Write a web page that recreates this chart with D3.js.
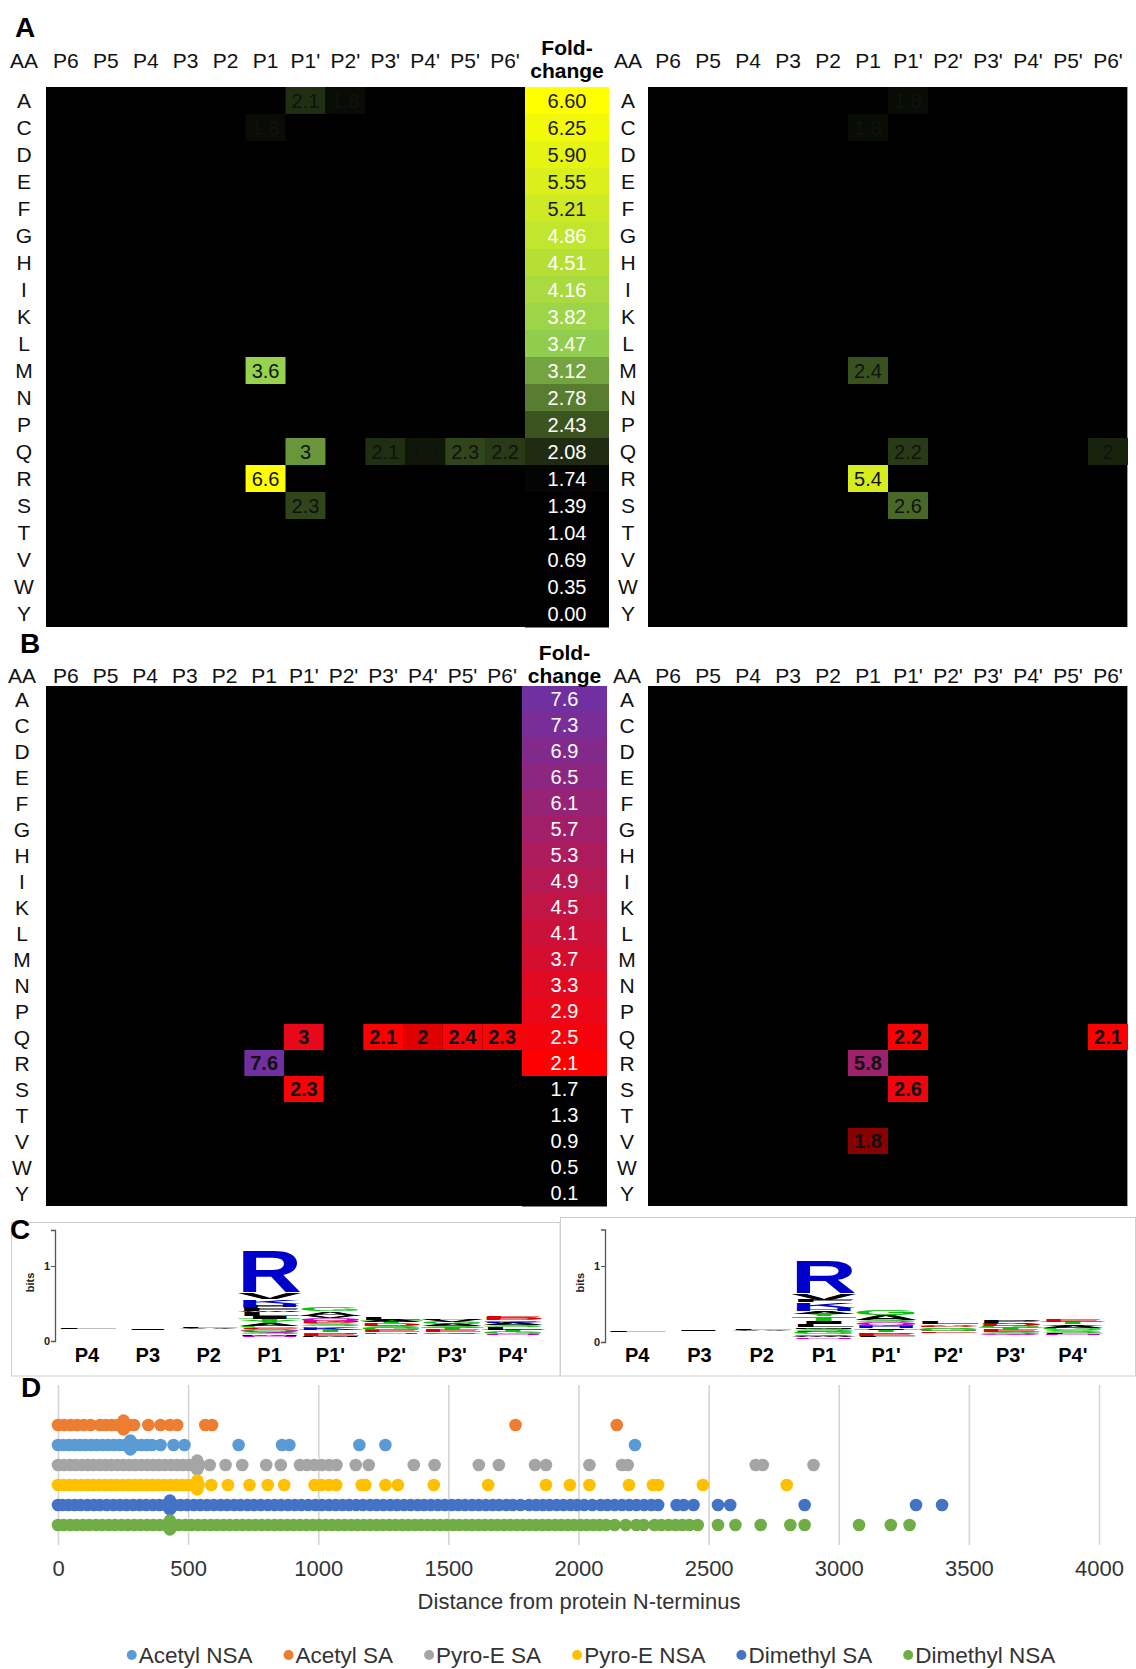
<!DOCTYPE html>
<html>
<head>
<meta charset="utf-8">
<script src="https://cdn.jsdelivr.net/npm/d3@7/dist/d3.min.js"></script>
<style>
  body { margin: 0; background: #fff; }
  svg { display: block; font-family: "Liberation Sans", Arial, sans-serif; }
</style>
</head>
<body>
<svg id="fig" width="1136" height="1669"></svg>
<script>
// ---- data ----
var aminoAcids = ["A","C","D","E","F","G","H","I","K","L","M","N","P","Q","R","S","T","V","W","Y"];
var positions = ["P6","P5","P4","P3","P2","P1","P1'","P2'","P3'","P4'","P5'","P6'"];

var foldLegendA = ["6.60","6.25","5.90","5.55","5.21","4.86","4.51","4.16","3.82","3.47","3.12","2.78","2.43","2.08","1.74","1.39","1.04","0.69","0.35","0.00"];
var foldLegendB = ["7.6","7.3","6.9","6.5","6.1","5.7","5.3","4.9","4.5","4.1","3.7","3.3","2.9","2.5","2.1","1.7","1.3","0.9","0.5","0.1"];

// [amino acid, position, fold-change]
var cellsALeft = [["A","P1'",2.1],["A","P2'",1.8],["C","P1",1.8],["M","P1",3.6],["Q","P1'",3],
  ["Q","P3'",2.1],["Q","P4'",1.9],["Q","P5'",2.3],["Q","P6'",2.2],["R","P1",6.6],["S","P1'",2.3]];
var cellsARight = [["A","P1'",1.8],["C","P1",1.8],["M","P1",2.4],["Q","P1'",2.2],["Q","P6'",2],
  ["R","P1",5.4],["S","P1'",2.6]];
var cellsBLeft = [["Q","P1'",3],["Q","P3'",2.1],["Q","P4'",2],["Q","P5'",2.4],["Q","P6'",2.3],
  ["R","P1",7.6],["S","P1'",2.3]];
var cellsBRight = [["Q","P1'",2.2],["Q","P6'",2.1],["R","P1",5.8],["S","P1'",2.6],["V","P1",1.8]];

// sequence logos: stack base (bits) and letters bottom-to-top [aa, bits]
var logoPositions = ["P4","P3","P2","P1","P1'","P2'","P3'","P4'"];
var logoBaseLeft = [0.16, 0.15, 0.16, 0.05, 0.05, 0.10, 0.10, 0.08];
var logoLettersLeft = [
  [["L",0.01]],
  [["I",0.01]],
  [["A",0.008],["L",0.02]],
  [["N",0.02],["M",0.02],["S",0.025],["Q",0.025],["G",0.02],["E",0.015],["C",0.03],["A",0.03],["Y",0.03],
   ["T",0.035],["I",0.035],["L",0.05],["W",0.02],["F",0.03],["P",0.025],["H",0.04],["K",0.06],["V",0.09],["R",0.57]],
  [["M",0.02],["E",0.03],["N",0.02],["T",0.03],["K",0.03],["C",0.02],["S",0.04],["D",0.03],["Q",0.04],["V",0.03],["A",0.06],["G",0.05]],
  [["N",0.015],["E",0.03],["G",0.03],["S",0.03],["D",0.03],["T",0.025],["A",0.025],["L",0.04]],
  [["Q",0.015],["E",0.03],["T",0.03],["S",0.03],["A",0.025],["G",0.03],["V",0.025],["P",0.02]],
  [["N",0.015],["G",0.03],["T",0.025],["L",0.035],["S",0.03],["A",0.025],["K",0.015],["Q",0.02],["D",0.025],["E",0.03]]
];
var logoBaseRight = [0.13, 0.15, 0.15, 0.04, 0.06, 0.12, 0.09, 0.09];
var logoLettersRight = [
  [["L",0.01]],
  [["I",0.01]],
  [["A",0.008],["L",0.02]],
  [["N",0.02],["W",0.02],["Q",0.02],["G",0.03],["E",0.015],["S",0.03],["M",0.02],["L",0.04],["I",0.04],
   ["T",0.045],["C",0.02],["Y",0.03],["A",0.04],["H",0.04],["K",0.07],["F",0.03],["V",0.09],["R",0.44]],
  [["L",0.02],["E",0.03],["D",0.02],["T",0.03],["I",0.02],["H",0.03],["N",0.02],["Q",0.03],["S",0.035],["A",0.06],["G",0.06]],
  [["E",0.02],["N",0.01],["G",0.025],["S",0.02],["D",0.02],["A",0.02],["L",0.035]],
  [["Q",0.015],["S",0.025],["E",0.03],["T",0.025],["G",0.025],["D",0.025],["A",0.02],["P",0.035]],
  [["N",0.015],["L",0.02],["S",0.03],["G",0.035],["A",0.025],["V",0.02],["T",0.03],["E",0.035]]
];

// panel D: distance from N-terminus per series
var seriesNames = ["Acetyl NSA","Acetyl SA","Pyro-E SA","Pyro-E NSA","Dimethyl SA","Dimethyl NSA"];
var seriesLevels = [5, 6, 4, 3, 2, 1];
var acetylNSA = [0,20,42,63,85,106,128,149,171,192,214,236,257,278,299,321,342,361,394,444,486,694,861,889,1158,1258,2217];
var acetylSA = [0,24,49,74,99,125,161,183,206,229,252,272,292,347,394,430,458,566,592,1758,2147];
var pyroESA = [0,23,46,68,92,115,137,160,183,206,229,251,274,297,320,343,366,388,411,434,457,480,503,525,543,
  583,644,708,800,856,930,957,985,1013,1042,1070,1144,1194,1367,1447,1617,1694,1833,1875,2042,2167,2189,2681,2708,2903];
var pyroENSA = [0,21,44,66,90,113,135,158,181,203,226,249,272,295,318,340,363,386,409,432,455,478,500,522,540,
  589,653,736,806,869,986,1012,1041,1069,1167,1181,1258,1306,1444,1653,1875,1967,2042,2194,2286,2306,2478,2800];
var dimethylSA = [0,17,40,64,87,113,138,161,187,213,238,263,289,314,339,365,390,414,430,447,471,496,522,547,573,
  599,625,650,676,701,728,753,779,806,832,857,884,910,935,962,989,1014,1041,1067,1093,1119,1146,1172,1199,1224,
  1250,1277,1303,1329,1355,1382,1407,1433,1460,1486,1513,1538,1564,1591,1617,1644,1670,1695,1722,1748,1777,
  1810,1837,1863,1889,1916,1942,1969,1995,2022,2053,2085,2111,2139,2167,2195,2223,2252,2280,2306,
  2377,2404,2442,2536,2583,2869,3297,3397];
var dimethylNSA = [0,22,47,71,96,120,146,170,195,219,244,268,293,317,342,366,391,415,430,440,464,489,513,538,562,
  587,611,636,660,685,709,734,758,783,807,832,856,881,905,930,954,979,1003,1028,1052,1077,1101,1126,1150,1175,
  1199,1224,1248,1273,1297,1322,1346,1371,1395,1420,1444,1469,1493,1518,1542,1567,1591,1616,1640,1665,1689,
  1714,1738,1763,1787,1812,1836,1861,1885,1910,1934,1959,1983,2008,2032,2057,2081,2106,2139,2181,2222,2250,
  2292,2318,2346,2373,2399,2426,2458,2536,2603,2700,2814,2869,3078,3200,3272];
var seriesValues = [acetylNSA, acetylSA, pyroESA, pyroENSA, dimethylSA, dimethylNSA];
// overlapping points drawn slightly off their row: [series index, distance, level]
var offLevelPoints = [[1,252,6.22],[1,252,5.78],[0,278,5.22],[0,278,4.78],[2,535,4.22],[2,535,3.78],
  [3,535,3.22],[3,535,2.78],[4,430,2.22],[4,430,1.78],[5,430,1.22],[5,430,0.78]];
var distanceTicks = [0,500,1000,1500,2000,2500,3000,3500,4000];

// ---- drawing ----
var svg = d3.select("#fig");
var fmt = d3.format("~g");
var ink = "#111";

// black-to-colour segment uses gamma so dim values still glow; other segments plain RGB
function mixInterp(a, b) {
  var ca = d3.rgb(a);
  if (ca.r === 0 && ca.g === 0 && ca.b === 0) return d3.interpolateRgb.gamma(2.2)(a, b);
  return d3.interpolateRgb(a, b);
}
var colorA = d3.scaleLinear().domain([1.7, 3.5, 6.6]).range(["#000000","#92d050","#ffff00"]).clamp(true);
var colorB = d3.scaleLinear().domain([1.7, 2.1, 7.6]).range(["#000000","#ff0000","#7030a0"])
  .interpolate(mixInterp).clamp(true);

function panelLabel(txt, x, y) {
  svg.append("text").attr("x", x).attr("y", y).text(txt)
    .style("font-size", "28px").style("font-weight", "bold").attr("fill", "#000");
}

function heatmap(cfg) {
  var x = d3.scaleBand().domain(positions).range([cfg.left, cfg.right]);
  var y = d3.scaleBand().domain(aminoAcids).range([cfg.top, cfg.bottom]);
  var g = svg.append("g");
  g.append("rect").attr("x", cfg.left).attr("y", cfg.top)
    .attr("width", cfg.right - cfg.left).attr("height", cfg.bottom - cfg.top).attr("fill", "#000");
  if (cfg.edge) {
    g.append("line").attr("x1", cfg.right - 0.5).attr("x2", cfg.right - 0.5)
      .attr("y1", cfg.top).attr("y2", cfg.bottom).attr("stroke", "#9a9a9a");
  }
  var cell = g.selectAll("g.cell").data(cfg.cells).enter().append("g").attr("class", "cell");
  cell.append("rect")
    .attr("x", function (d) { return x(d[1]); })
    .attr("y", function (d) { return y(d[0]); })
    .attr("width", x.bandwidth()).attr("height", y.bandwidth())
    .attr("fill", function (d) { return cfg.color(d[2]); });
  cell.append("text")
    .attr("x", function (d) { return x(d[1]) + x.bandwidth() / 2; })
    .attr("y", function (d) { return y(d[0]) + y.bandwidth() / 2; })
    .attr("dy", "0.36em").attr("text-anchor", "middle")
    .style("font-size", "20px").style("font-weight", cfg.bold ? "bold" : "normal")
    .attr("fill", "#111")
    .text(function (d) { return fmt(d[2]); });

  g.selectAll("text.col").data(positions).enter().append("text")
    .attr("x", function (d) { return x(d) + x.bandwidth() / 2; })
    .attr("y", cfg.headerY).attr("text-anchor", "middle")
    .style("font-size", "21px").attr("fill", ink).text(function (d) { return d; });
  g.append("text").attr("x", cfg.aaX).attr("y", cfg.headerY).attr("text-anchor", "middle")
    .style("font-size", "21px").attr("fill", ink).text("AA");
  g.selectAll("text.row").data(aminoAcids).enter().append("text")
    .attr("x", cfg.aaX)
    .attr("y", function (d) { return y(d) + y.bandwidth() / 2; })
    .attr("dy", "0.36em").attr("text-anchor", "middle")
    .style("font-size", "21px").attr("fill", ink).text(function (d) { return d; });
}

function colorbar(cfg) {
  var y = d3.scaleBand().domain(d3.range(cfg.labels.length)).range([cfg.top, cfg.bottom]);
  var g = svg.append("g");
  var cx = (cfg.left + cfg.right) / 2;
  g.selectAll("rect").data(cfg.labels).enter().append("rect")
    .attr("x", cfg.left).attr("width", cfg.right - cfg.left)
    .attr("y", function (d, i) { return y(i); }).attr("height", y.bandwidth() + 0.5)
    .attr("fill", function (d) { return cfg.color(+d); });
  g.selectAll("text.v").data(cfg.labels).enter().append("text")
    .attr("x", cx).attr("y", function (d, i) { return y(i) + y.bandwidth() / 2; })
    .attr("dy", "0.36em").attr("text-anchor", "middle").style("font-size", "20px")
    .attr("fill", function (d) { return cfg.textColor(+d); })
    .text(function (d) { return d; });
  g.append("text").attr("x", cx).attr("y", cfg.titleY[0]).attr("text-anchor", "middle")
    .style("font-size", "21px").style("font-weight", "bold").attr("fill", "#000").text("Fold-");
  g.append("text").attr("x", cx).attr("y", cfg.titleY[1]).attr("text-anchor", "middle")
    .style("font-size", "21px").style("font-weight", "bold").attr("fill", "#000").text("change");
}

// Panel A
panelLabel("A", 15, 37);
heatmap({left: 46, right: 525, top: 87, bottom: 627, headerY: 68, aaX: 24, cells: cellsALeft, color: colorA, bold: false});
colorbar({left: 525, right: 609, top: 87, bottom: 627, labels: foldLegendA, color: colorA,
  textColor: function (v) { return v > 5 ? "#1a1a1a" : "#fff"; }, titleY: [55, 78]});
heatmap({left: 648, right: 1128, top: 87, bottom: 627, headerY: 68, aaX: 628, cells: cellsARight, color: colorA, bold: false, edge: true});

// Panel B
panelLabel("B", 20, 653);
heatmap({left: 46, right: 522, top: 686, bottom: 1206, headerY: 683, aaX: 22, cells: cellsBLeft, color: colorB, bold: true});
colorbar({left: 522, right: 607, top: 686, bottom: 1206, labels: foldLegendB, color: colorB,
  textColor: function () { return "#fff"; }, titleY: [660, 683]});
heatmap({left: 648, right: 1128, top: 686, bottom: 1206, headerY: 683, aaX: 627, cells: cellsBRight, color: colorB, bold: true, edge: true});

// Panel C: sequence logos
svg.append("rect").attr("x", 11.5).attr("y", 1222.5).attr("width", 548.5).attr("height", 153.5)
  .attr("fill", "none").attr("stroke", "#cfcfcf");
svg.append("rect").attr("x", 560.5).attr("y", 1217.5).attr("width", 575).attr("height", 158.5)
  .attr("fill", "none").attr("stroke", "#cfcfcf");
panelLabel("C", 10, 1239);

var aaColor = function (a) {
  if ("GSTYC".indexOf(a) >= 0) return "#0bc20b";
  if ("NQ".indexOf(a) >= 0) return "#cc00cc";
  if ("KRH".indexOf(a) >= 0) return "#0000cc";
  if ("DE".indexOf(a) >= 0) return "#e00000";
  return "#000";
};

function logo(cfg) {
  var x = d3.scaleBand().domain(logoPositions).range(cfg.range);
  var y = d3.scaleLinear().domain([0, 1.48]).range([cfg.zeroY, cfg.zeroY - 1.48 * cfg.pxPerBit]);
  var g = svg.append("g");
  var ax = g.append("g").attr("transform", "translate(" + cfg.axisX + ",0)")
    .call(d3.axisLeft(y).tickValues([0, 1]).tickFormat(d3.format("d")).tickSize(4).tickPadding(1));
  ax.select(".domain").attr("stroke", "#555").attr("stroke-width", 1.3);
  ax.selectAll(".tick line").attr("stroke", "#555");
  ax.selectAll(".tick text").style("font-size", "11px").style("font-weight", "bold")
    .style("font-family", "Liberation Sans, Arial, sans-serif").attr("fill", "#222");
  g.append("text").attr("transform", "translate(" + (cfg.axisX - 21) + "," + y(0.78) + ") rotate(-90)")
    .attr("text-anchor", "middle").style("font-size", "11px").style("font-weight", "bold")
    .attr("fill", "#222").text("bits");

  g.selectAll("text.pos").data(logoPositions).enter().append("text")
    .attr("x", function (d) { return x(d) + x.bandwidth() / 2; }).attr("y", 1362)
    .attr("text-anchor", "middle").style("font-size", "20px").style("font-weight", "bold")
    .attr("fill", "#000").text(function (d) { return d; });

  var bw = x.bandwidth() - 1;
  cfg.letters.forEach(function (stack, i) {
    var cum = cfg.base[i];
    stack.forEach(function (l) {
      var h = y(cum) - y(cum + l[1]);
      var t = g.append("text").text(l[0]).style("font-size", "100px").style("font-weight", "bold")
        .attr("fill", aaColor(l[0]));
      var w = t.node().getComputedTextLength();
      var sx = bw * 1.08 / w;
      t.attr("transform", "translate(" + (x(logoPositions[i]) + 0.5 - bw * 0.04) + "," + y(cum) + ") scale(" + sx + "," + (h / 71.6) + ")");
      cum += l[1];
    });
  });
}
logo({range: [56.5, 543.5], zeroY: 1341, pxPerBit: 75, axisX: 55, base: logoBaseLeft, letters: logoLettersLeft});
logo({range: [606, 1104], zeroY: 1342, pxPerBit: 76, axisX: 605, base: logoBaseRight, letters: logoLettersRight});

// Panel D: positions along protein
panelLabel("D", 21, 1397);
var seriesColors = ["#5b9bd5", "#ed7d31", "#a5a5a5", "#ffc000", "#4472c4", "#70ad47"];
var xD = d3.scaleLinear().domain([0, 4000]).range([58, 1099]);
var yD = d3.scaleLinear().domain([0, 8]).range([1545, 1385]);

var axD = svg.append("g").attr("transform", "translate(0,1545)")
  .call(d3.axisBottom(xD).tickValues(distanceTicks).tickFormat(d3.format("d")).tickSize(-160).tickPadding(15));
axD.select(".domain").remove();
axD.selectAll(".tick line").attr("stroke", "#d4d4d4").attr("stroke-width", 1.6);
axD.selectAll(".tick text").style("font-size", "22px")
  .style("font-family", "Liberation Sans, Arial, sans-serif").attr("fill", "#333");

svg.append("text").attr("x", 579).attr("y", 1609).attr("text-anchor", "middle")
  .style("font-size", "22px").attr("fill", "#333").text("Distance from protein N-terminus");

seriesValues.forEach(function (vals, i) {
  svg.append("g").selectAll("circle").data(vals).enter().append("circle")
    .attr("cx", function (d) { return xD(d); })
    .attr("cy", yD(seriesLevels[i]))
    .attr("r", 6.3).attr("fill", seriesColors[i]);
});
svg.append("g").selectAll("circle").data(offLevelPoints).enter().append("circle")
  .attr("cx", function (d) { return xD(d[1]); })
  .attr("cy", function (d) { return yD(d[2]); })
  .attr("r", 6.3).attr("fill", function (d) { return seriesColors[d[0]]; });

var legG = svg.append("g");
var lx = 0;
seriesNames.forEach(function (name, i) {
  var item = legG.append("g").attr("transform", "translate(" + lx + ",0)");
  item.append("circle").attr("cx", 5).attr("cy", -8).attr("r", 5).attr("fill", seriesColors[i]);
  var t = item.append("text").attr("x", 12).attr("y", 0).style("font-size", "22.5px")
    .attr("fill", "#333").text(name);
  lx += 12 + t.node().getComputedTextLength() + 31;
});
legG.attr("transform", "translate(" + (591 - (lx - 31) / 2) + ",1663)");
</script>
</body>
</html>
